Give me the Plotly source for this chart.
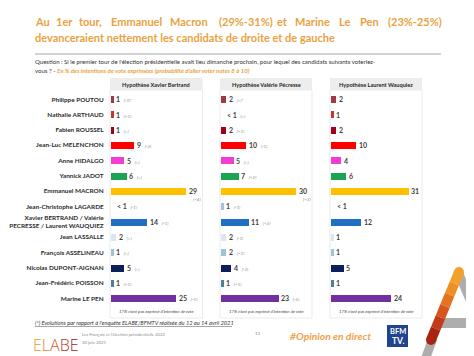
import plotly.graph_objects as go

# The page body has an 8px default margin: map reference pixels accordingly.
OFF = 8
W, H = 474 - OFF, 356 - OFF
def px(x): return (x - OFF) / W
def py(y): return 1 - (y - OFF) / H
LP = 2  # annotation inner padding for left-anchored texts

# ---------------- data ----------------
candidates = [
    "Philippe POUTOU", "Nathalie ARTHAUD", "Fabien ROUSSEL", "Jean-Luc MELENCHON",
    "Anne HIDALGO", "Yannick JADOT", "Emmanuel MACRON", "Jean-Christophe LAGARDE",
    "Xavier BERTRAND / Valérie<br>PECRESSE / Laurent WAUQUIEZ", "Jean LASSALLE",
    "François ASSELINEAU", "Nicolas DUPONT-AIGNAN", "Jean-Frédéric POISSON", "Marine LE PEN",
]
bar_colors = [
    "#9B3A48", "#C0392B", "#A0001E", "#FF0000", "#F23CD2", "#1DA452", "#FFC000",
    "#A9C0DA", "#1F6FC2", "#DCE6F1", "#9CC3D6", "#0D1F5A", "#4F7FA0", "#7030A0",
]
panel_titles = ["Hypothèse Xavier Bertrand", "Hypothèse Valérie Pécresse", "Hypothèse Laurent Wauquiez"]

# 0 means "< 1" (no visible bar)
values_bertrand = [1, 1, 1, 9, 5, 6, 29, 0, 14, 2, 1, 5, 1, 25]
values_pecresse = [2, 0, 2, 10, 5, 7, 30, 1, 11, 2, 2, 4, 1, 23]
values_wauquiez = [2, 1, 2, 10, 4, 6, 31, 0, 12, 1, 1, 5, 1, 24]

evo_bertrand = ["(-1)*", "(+1)", "(=)", "(-2)", "(=)", "(=)", "(+4)", "(-1)", "(-1)", "(=)", "(=)", "(=)", "(+1)", "(-1)"]
evo_pecresse = ["(=)*", "(=)", "(+1)", "(-1)", "(=)", "(+2)", "(+3)", "(-1)", "(+2)", "(-1)", "(+1)", "(-2)", "(+1)", "(-5)"]
evo_wauquiez = [""] * 14

no_opinion_note = "17% n'ont pas exprimé d'intention de vote"

panels = [
    (values_bertrand, evo_bertrand),
    (values_pecresse, evo_pecresse),
    (values_wauquiez, evo_wauquiez),
]

# ---------------- layout geometry ----------------
FONT = "Lato"
panel_box = [(110, 202.5), (220, 312), (330, 422)]
bar_start = [110.7, 220.7, 330.7]
px_per_unit = [2.6, 2.5, 2.5]
row_top, row_bot = 91.6, 306.0

fig = go.Figure()
annotations = []
shapes = []

def note(x, y, text, size, color="#333333", anchor="left", family=FONT, **kw):
    xx = x - LP if anchor == "left" else x
    f = dict(family=family, size=size, color=color)
    f.update(kw.pop("font_extra", {}))
    annotations.append(dict(x=px(xx), y=py(y), xref="paper", yref="paper", text=text,
                            showarrow=False, xanchor=anchor, yanchor="middle", font=f, **kw))

for k, (vals, evos) in enumerate(panels):
    ax = "" if k == 0 else str(k + 1)
    fig.add_trace(go.Bar(
        x=vals, y=candidates, orientation="h",
        marker=dict(color=bar_colors, line=dict(width=0)),
        width=0.46, xaxis="x" + ax, yaxis="y" + ax,
        hoverinfo="skip", showlegend=False,
    ))
    for i, (v, ev) in enumerate(zip(vals, evos)):
        lab = "< 1" if v == 0 else str(v)
        txt = "<b>%s</b>" % lab
        macron = candidates[i] == "Emmanuel MACRON"
        if ev and not macron:
            txt += "  <span style='font-size:4.6px;color:#8C8C8C'><i>%s</i></span>" % ev
        annotations.append(dict(
            x=v, y=candidates[i], xref="x" + ax, yref="y" + ax, text=txt,
            xanchor="left", yanchor="middle", xshift=1 if v > 0 else 4, showarrow=False,
            font=dict(family=FONT, size=7, color="#3F3F3F"),
        ))
        if ev and macron:
            annotations.append(dict(
                x=v, y=candidates[i], xref="x" + ax, yref="y" + ax,
                text="<i>%s</i>" % ev, xanchor="left", yanchor="middle",
                xshift=5, yshift=-8, showarrow=False,
                font=dict(family=FONT, size=4.6, color="#8C8C8C"),
            ))

    x0, x1 = panel_box[k]
    shapes.append(dict(type="rect", xref="paper", yref="paper",
                       x0=px(x0), x1=px(x1), y0=py(318), y1=py(90),
                       fillcolor="white", line=dict(color="#EBEBEB", width=1), layer="below"))
    shapes.append(dict(type="rect", xref="paper", yref="paper",
                       x0=px(x0), x1=px(x1), y0=py(90), y1=py(78),
                       fillcolor="#EDEDED", line=dict(width=0), layer="below"))
    note((x0 + x1) / 2, 84, "<b>%s</b>" % panel_titles[k], 5.6, "#262626", anchor="center")
    note((x0 + x1) / 2, 311, "<i>%s</i>" % no_opinion_note, 4.3, "#404040", anchor="center")

    xspan = (panel_box[k][1] - bar_start[k]) / px_per_unit[k]
    fig.layout["xaxis" + ax] = dict(
        domain=[px(bar_start[k]), px(panel_box[k][1])], range=[0, xspan],
        visible=False, fixedrange=True, anchor="y" + ax,
    )
    yax = dict(
        domain=[py(row_bot), py(row_top)], type="category",
        categoryorder="array", categoryarray=candidates, range=[13.5, -0.5],
        showgrid=False, zeroline=False, showline=False, ticks="",
        anchor="x" + ax, fixedrange=True,
    )
    if k == 0:
        yax.update(showticklabels=True, ticklabelstandoff=6,
                   tickfont=dict(family=FONT, size=6.4, color="#2B2B2B", weight="bold"))
    else:
        yax.update(showticklabels=False, matches="y")
    fig.layout["yaxis" + ax] = yax

# ---------------- title & question ----------------
# first title line is justified between x=35 and x=438 in the reference
title_words = [("Au", 35), ("1er", 56), ("tour,", 79), ("Emmanuel", 110.5), ("Macron", 169.5),
               ("(29%-31%)", 218.5), ("et", 276.5), ("Marine", 294.5), ("Le", 339), ("Pen", 359.5),
               ("(23%-25%)", 387.5)]
TITLE_COLOR = "#E9A241"
for w, x in title_words:
    note(x, 21.5, "<b>%s</b>" % w, 11, TITLE_COLOR)
note(35, 37, "<b>devanceraient nettement les candidats de droite et de gauche</b>", 11, TITLE_COLOR)
shapes.append(dict(type="line", xref="paper", yref="paper", x0=px(35), x1=px(441),
                   y0=py(54), y1=py(54), line=dict(color="#A6A6A6", width=1)))
note(35, 62, "Question : Si le premier tour de l'élection présidentielle avait lieu dimanche prochain, pour lequel des candidats suivants voteriez-", 6.05)
note(35, 70.5, "vous ? - <span style='color:#E9A241'><b><i>En % des intentions de vote exprimées (probabilité d'aller voter notes 8 à 10)</i></b></span>", 6.05)

# ---------------- footer ----------------
note(35, 322.5, "<i>(*) Evolutions par rapport à l'enquête ELABE/BFMTV réalisée du 12 au 14 avril 2021</i>", 5.7)
shapes.append(dict(type="line", xref="paper", yref="paper", x0=px(35), x1=px(232),
                   y0=py(326.5), y1=py(326.5), line=dict(color="#7F7F7F", width=0.7)))
note(33, 344.5,
     "<span style='color:#E39B2E'>E</span><span style='color:#D98A2C'>L</span><span style='color:#C9602A'>A</span><span style='color:#B23A2A'>B</span><span style='color:#9C2A25'>E</span>",
     16, "#C9602A", family="Open Sans", font_extra=dict(weight=300))
note(82, 334, "Les Français et l'élection présidentielle 2022", 4.3, "#8C8C8C")
note(82, 342, "30 juin 2021", 4.3, "#8C8C8C")
note(257, 333, "13", 4.3, "#8C8C8C", anchor="center")
note(290, 335.5, "<b><i>#Opinion en direct</i></b>", 10.3, "#F0A24E")

# BFM TV logo
shapes.append(dict(type="rect", xref="paper", yref="paper", x0=px(387), x1=px(408),
                   y0=py(347), y1=py(325), fillcolor="#21448F", line=dict(width=0)))
note(397.5, 331, "<b>BFM</b>", 7.5, "white", anchor="center")
note(397.5, 340.5, "<b>TV.</b>", 8.5, "white", anchor="center")

# decorative "A" mark (bottom right)
GRAY = "#ADADAD"
shapes.append(dict(type="line", xref="paper", yref="paper", x0=px(458), y0=py(272),
                   x1=px(478), y1=py(318), line=dict(color=GRAY, width=9)))
shapes.append(dict(type="rect", xref="paper", yref="paper", x0=px(440), x1=px(476),
                   y0=py(328), y1=py(318), fillcolor=GRAY, line=dict(width=0)))
shapes.append(dict(type="line", xref="paper", yref="paper", x0=px(433), y0=py(338),
                   x1=px(425), y1=py(360), line=dict(color=GRAY, width=9)))
seg_colors = ["#F2A22A", "#EE8E25", "#E57420", "#D6561C", "#C23A18", "#A92314"]
n = len(seg_colors)
xa, ya, xb, yb = 459, 272, 431, 340
for s, c in enumerate(seg_colors):
    t0, t1 = s / n, (s + 1) / n
    shapes.append(dict(type="line", xref="paper", yref="paper",
                       x0=px(xa + (xb - xa) * t0), y0=py(ya + (yb - ya) * t0),
                       x1=px(xa + (xb - xa) * t1), y1=py(ya + (yb - ya) * t1),
                       line=dict(color=c, width=10)))
shapes.append(dict(type="circle", xref="paper", yref="paper", x0=px(xa - 5), x1=px(xa + 5),
                   y0=py(ya + 5), y1=py(ya - 5), fillcolor=seg_colors[0], line=dict(width=0)))
shapes.append(dict(type="circle", xref="paper", yref="paper", x0=px(xb - 5), x1=px(xb + 5),
                   y0=py(yb + 5), y1=py(yb - 5), fillcolor=seg_colors[-1], line=dict(width=0)))

fig.update_layout(
    width=W, height=H, margin=dict(l=0, r=0, t=0, b=0),
    paper_bgcolor="white", plot_bgcolor="rgba(0,0,0,0)",
    annotations=annotations, shapes=shapes, bargap=0,
    font=dict(family=FONT),
)
fig.write_html("out.html", config={"displayModeBar": False})
